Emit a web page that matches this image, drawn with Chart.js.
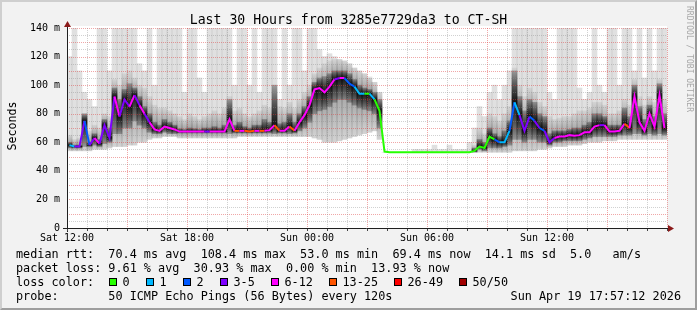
<!DOCTYPE html>
<html><head><meta charset="utf-8">
<script src="https://cdn.jsdelivr.net/npm/chart.js@4/dist/chart.umd.min.js"></script>
<style>
html,body{margin:0;padding:0;background:#f2f2f2}
#wrap{position:relative;width:697px;height:310px;background:#f2f2f2;overflow:hidden;font-family:"DejaVu Sans Mono",monospace;color:#000}
#frame{position:absolute;left:0;top:0;width:697px;height:310px;box-sizing:border-box;border-top:2px solid #cfcfcf;border-left:2px solid #cfcfcf;border-right:2px solid #9e9e9e;border-bottom:2px solid #9e9e9e;pointer-events:none}
canvas{position:absolute;left:0;top:0}
.t{position:absolute;white-space:pre;font-size:11.8px;line-height:14px}
.box{position:absolute;width:6px;height:6px;border:1px solid #000}
#title{position:absolute;left:0;top:11.5px;width:697px;text-align:center;font-size:13.2px;line-height:16px;white-space:pre}
#ylab{position:absolute;left:-38px;top:119px;width:100px;text-align:center;font-size:11.6px;line-height:14px;transform:rotate(-90deg)}
#wm{position:absolute;left:629px;top:54px;width:120px;text-align:center;font-size:8px;line-height:10px;color:#a8a8a8;transform:rotate(90deg);white-space:pre}
</style>
</head><body>
<div id="wrap">
<canvas id="c" width="697" height="310"></canvas>
<div id="title">Last 30 Hours from 3285e7729da3 to CT-SH</div>
<div id="ylab">Seconds</div>
<div id="wm">RRDTOOL / TOBI OETIKER</div>
<div id="legend"></div>
<div id="frame"></div>
</div>
<script>
// ---- data (15-minute bins, Sat 12:00 -> Sun 18:00) ----
const xTickLabels = ['Sat 12:00','Sat 18:00','Sun 00:00','Sun 06:00','Sun 12:00',''];
const yTickLabels = ['0','10 m','20 m','30 m','40 m','50 m','60 m','70 m','80 m','90 m','100 m','110 m','120 m','130 m','140 m'];
const lossColors = ['#26ff00','#00b8ff','#0059ff','#7e00ff','#ff00ff','#ff5500','#ff0000','#a10000'];
const lossLabels = ['0','1','2','3-5','6-12','13-25','26-49','50/50'];

const median = [
 58,57,57,75,58,63,59,72,63,92,
 78,90,85,93,86,80,74,69,68,71,
 70,69,67.5,67.5,67.5,67.5,67.5,67.5,67.5,67.5,
 67.5,67.5,76,68,68,68,67.5,68,68,68,
 68.5,72,68,68,71,68,74,79,86,97,
 98,95,99,104,105,105,101,99,94,94,
 94,90,82,53.5,53,53,53,53,53,53,
 53,53,53,53,53,53,53,53,53,53,
 53,54,57,56,64,62,60,60,68,88,
 79,68,78,75,70,68,60,63,64,64,
 65,64.5,65,67,67,71,72,72,67.5,67.5,
 68,73,70,92,74,68,80,71,93,70];
const loss = [
 1,3,3,2,3,4,3,3,3,4,
 3,3,4,3,4,3,4,4,4,4,
 4,4,4,4,4,4,4,3,4,4,
 4,4,4,5,4,5,5,4,5,4,
 4,5,4,4,5,4,4,4,4,4,
 4,4,4,3,4,2,2,1,1,0,
 1,0,0,0,0,0,0,0,0,0,
 0,0,0,0,0,0,0,0,0,0,
 0,0,0,0,0,2,1,1,2,1,
 3,3,2,3,2,3,3,4,4,4,
 4,4,4,4,4,4,3,4,4,4,
 4,5,4,4,4,4,4,4,4,3];
const smokeLow = [
 54,54,54,54,54,55,55,55,56,57,
 57,57,58,58,60,60,62,63,63,64,
 64,64,63,63,63,63,63,63,63,63,
 63,63,63,63,64,64,64,64,64,64,
 64,64,64,64,64,64,64,64,64,63,
 62,60,60,60,61,62,63,64,65,66,
 67,68,62,53,53,53,53,53,53,53,
 53,53,53,53,53,53,53,53,53,53,
 53,53,53,53,53,53,53,53,53,54,
 54,54,54,54,55,55,56,57,57,57,
 58,58,58,59,60,60,60,61,61,61,
 62,62,62,62,62,62,62,62,62,62];
const smokeHigh = [
 120,140,110,95,90,85,140,140,110,140,
 140,140,140,140,115,110,140,100,140,140,
 140,140,140,95,140,140,105,95,140,140,
 140,140,140,100,140,140,100,140,95,140,
 140,140,90,140,100,140,140,110,140,140,
 125,120,122,120,118,117,115,112,110,108,
 105,102,95,53,53,53,53,53,53,55,
 55,55,55,58,55,55,58,55,55,55,
 60,70,85,78,95,100,90,100,110,140,
 140,140,140,140,140,140,95,90,140,140,
 140,140,98,90,95,140,100,95,140,140,
 100,140,140,110,140,105,140,110,140,140];
const smokeMidHigh = [
 65,62,63,80,68,72,70,80,78,104,
 100,108,110,105,100,98,92,86,84,84,
 82,80,78,76,80,78,76,78,80,82,
 80,84,92,82,84,80,78,80,82,86,
 84,100,85,84,88,84,90,95,100,108,
 112,115,117,118,118,117,115,112,110,108,
 106,102,95,53,53,53,53,53,53,53,
 53,53,53,53,53,53,53,53,53,53,
 53,58,70,66,80,78,75,80,85,112,
 100,92,98,95,88,85,78,76,77,78,
 78,80,82,82,84,88,88,86,80,80,
 82,90,86,104,92,86,92,88,104,90];
const smokeDarkLow = [
 56,56,56,57,57,58,57,59,60,66,
 66,70,70,75,72,70,67,66,66,67,
 66,66,66.5,66.5,66.5,66.5,66.5,66.5,66.5,66.5,
 66.5,66.5,66,66.5,66.5,66.5,66.5,66.5,66.5,66.5,
 66.5,66,66.5,66.5,66,66.5,68,70,74,80,
 82,83,85,88,90,90,88,86,84,83,
 82,80,70,53,53,53,53,53,53,53,
 53,53,53,53,53,53,53,53,53,53,
 53,53,55,54,56,56,56,57,58,62,
 62,60,62,62,60,60,58,60,60,61,
 61,61,61,62,63,64,64,64,64,64,
 65,65,65,66,66,65,66,65,66,65];
const smokeDarkHigh = [
 60,58,58,80,60,66,62,76,70,98,
 90,97,101,98,92,85,80,74,72,76,
 74,72,69.5,69,70,69.5,69,70,70,71,
 70,72,90,72,74,71,70,72,72,76,
 74,100,73,74,80,74,80,85,92,102,
 105,106,108,110,110,110,108,104,100,98,
 97,95,90,53,53,53,53,53,53,53,
 53,53,53,53,53,53,53,53,53,53,
 53,56,62,60,70,66,64,68,75,110,
 92,82,90,88,80,78,66,68,68,68,
 69,70,70,72,74,80,80,78,72,72,
 72,84,78,100,85,76,86,78,101,80];

// bin centres in hours since Sat 12:00
const binHours = median.map((_, i) => i * 0.25 + 0.125);

// ---- legend (HTML text) ----
const legendRows = [
  {top:247, text:'median rtt:  70.4 ms avg  108.4 ms max  53.0 ms min  69.4 ms now  14.1 ms sd  5.0   am/s'},
  {top:261, text:'packet loss: 9.61 % avg  30.93 % max  0.00 % min  13.93 % now'},
  {top:275, text:'loss color:'},
  {top:289, text:'probe:       50 ICMP Echo Pings (56 Bytes) every 120s'}
];
const boxLefts = [109,146,183,220,271,329,394,459];
const lg = document.getElementById('legend');
legendRows.forEach(r => {
  const d = document.createElement('div'); d.className = 't';
  d.style.left = '16px'; d.style.top = r.top + 'px'; d.textContent = r.text; lg.appendChild(d);
});
boxLefts.forEach((x, k) => {
  const b = document.createElement('div'); b.className = 'box';
  b.style.left = x + 'px'; b.style.top = '278px'; b.style.background = lossColors[k]; lg.appendChild(b);
  const d = document.createElement('div'); d.className = 't';
  d.style.left = (x + 13.5) + 'px'; d.style.top = '275px'; d.textContent = lossLabels[k]; lg.appendChild(d);
});
const dt = document.createElement('div'); dt.className = 't';
dt.style.right = (697 - 681) + 'px'; dt.style.top = '289px'; dt.textContent = 'Sun Apr 19 17:57:12 2026'; lg.appendChild(dt);

// ---- chart ----
function band(lo, hi) { return binHours.map((h, i) => ({x: h, y: [lo[i], hi[i]]})); }
const barCommon = {type:'bar', grouped:false, barPercentage:1, categoryPercentage:1, borderWidth:0, borderSkipped:false};

// vertical smoke shading: darkest at the median, fading towards both ends of the band
function smokeFill(lo, hi, aEdge, aMid) {
  const plain = `rgba(0,0,0,${(aEdge + aMid) / 2})`;
  return function(c) {
    const chart = c.chart, i = c.dataIndex;
    if (c.type !== 'data' || !chart.scales || !chart.scales.y) return plain;
    const y = chart.scales.y;
    const p0 = y.getPixelForValue(lo[i]), p1 = y.getPixelForValue(hi[i]), pm = y.getPixelForValue(median[i]);
    if (!isFinite(p0) || !isFinite(p1) || !isFinite(pm)) return plain;
    if (Math.abs(p0 - p1) < 0.5) return 'rgba(0,0,0,0)';
    let t = (pm - p0) / (p1 - p0);
    t = Math.min(0.97, Math.max(0.03, t));
    const g = chart.ctx.createLinearGradient(0, p0, 0, p1);
    g.addColorStop(0, `rgba(0,0,0,${aEdge})`);
    g.addColorStop(t, `rgba(0,0,0,${aMid})`);
    g.addColorStop(1, `rgba(0,0,0,${aEdge})`);
    return g;
  };
}

function drawGrid(chart) {
  const {ctx, chartArea:a, scales:{x, y}} = chart;
  ctx.save();
  ctx.lineWidth = 1;
  ctx.setLineDash([1, 1]);
  for (let v = 5; v <= 140; v += 5) {
    const py = Math.round(y.getPixelForValue(v)) + 0.5;
    ctx.strokeStyle = (v % 10 === 0) ? 'rgba(222,60,60,0.45)' : 'rgba(140,140,140,0.4)';
    ctx.beginPath(); ctx.moveTo(a.left, py); ctx.lineTo(a.right, py); ctx.stroke();
  }
  for (let h = 1; h <= 30; h++) {
    const px = Math.round(x.getPixelForValue(h)) + 0.5;
    ctx.strokeStyle = (h % 3 === 0) ? 'rgba(222,60,60,0.45)' : 'rgba(140,140,140,0.4)';
    ctx.beginPath(); ctx.moveTo(px, a.top); ctx.lineTo(px, a.bottom); ctx.stroke();
  }
  ctx.restore();
}
function drawAxes(chart) {
  const {ctx, chartArea:a, scales:{x}} = chart;
  ctx.save();
  ctx.lineWidth = 1;
  ctx.strokeStyle = '#202020';
  ctx.beginPath(); ctx.moveTo(a.left - 4, a.bottom + 0.5); ctx.lineTo(a.right + 3, a.bottom + 0.5); ctx.stroke();
  ctx.beginPath(); ctx.moveTo(a.left + 0.5, a.bottom + 4); ctx.lineTo(a.left + 0.5, a.top - 3); ctx.stroke();
  ctx.strokeStyle = '#444';
  for (let h = 0; h <= 30; h++) {
    const px = Math.round(x.getPixelForValue(h)) + 0.5;
    ctx.beginPath(); ctx.moveTo(px, a.bottom + 1); ctx.lineTo(px, a.bottom + 3); ctx.stroke();
  }
  ctx.fillStyle = '#8b1a1a';
  ctx.beginPath(); ctx.moveTo(a.left - 3, a.top - 1); ctx.lineTo(a.left + 4, a.top - 1); ctx.lineTo(a.left + 0.5, a.top - 7); ctx.closePath(); ctx.fill();
  ctx.beginPath(); ctx.moveTo(a.right + 1, a.bottom - 3); ctx.lineTo(a.right + 1, a.bottom + 4); ctx.lineTo(a.right + 7, a.bottom + 0.5); ctx.closePath(); ctx.fill();
  ctx.restore();
}
const rrdPlugin = {
  id: 'rrd',
  beforeDatasetsDraw(chart) {
    const {ctx, chartArea:a} = chart;
    ctx.save(); ctx.fillStyle = '#ffffff';
    ctx.fillRect(a.left, a.top - 2, a.right - a.left, a.bottom - a.top + 2);
    ctx.restore();
  },
  afterDatasetDraw(chart, args) { if (args.index === 1) drawGrid(chart); },
  afterDraw(chart) { drawAxes(chart); }
};

const tickFont = {family: 'DejaVu Sans Mono', size: 10};
new Chart(document.getElementById('c'), {
  type: 'bar',
  data: {
    datasets: [
      {type:'line', label:'median', data: binHours.map((h, i) => ({x: h, y: median[i]})),
       borderWidth: 2, pointRadius: 0, tension: 0, borderColor: '#ff00ff', order: 0,
       segment: {borderColor: c => lossColors[loss[c.p0DataIndex]]}},
      Object.assign({label:'dark', data: band(smokeDarkLow, smokeDarkHigh), backgroundColor: smokeFill(smokeDarkLow, smokeDarkHigh, 0.25, 0.85), order:1}, barCommon),
      Object.assign({label:'mid', data: band(smokeLow, smokeMidHigh), backgroundColor: smokeFill(smokeLow, smokeMidHigh, 0.06, 0.32), order:2}, barCommon),
      Object.assign({label:'light', data: band(smokeLow, smokeHigh), backgroundColor:'rgba(0,0,0,0.12)', order:3}, barCommon)
    ]
  },
  options: {
    responsive: false, animation: false, devicePixelRatio: 1, events: [],
    layout: {padding: {left: 0, right: 30, top: 28, bottom: 0}},
    plugins: {legend: {display: false}, tooltip: {enabled: false}, title: {display: false}},
    scales: {
      x: {type: 'linear', min: 0, max: 30, offset: false,
          grid: {display: false, drawTicks: false, tickLength: 0}, border: {display: false},
          ticks: {stepSize: 6, autoSkip: false, maxRotation: 0, color: '#000', font: tickFont, padding: 4,
                  callback: (v, i) => xTickLabels[i] ?? ''},
          afterFit: s => { s.height = 82; }},
      y: {type: 'linear', min: 0, max: 140,
          grid: {display: false, drawTicks: false, tickLength: 0}, border: {display: false},
          ticks: {stepSize: 10, color: '#000', font: tickFont, padding: 7,
                  callback: (v, i) => yTickLabels[i] ?? ''},
          afterFit: s => { s.width = 67; }}
    }
  },
  plugins: [rrdPlugin]
});
</script>
</body></html>
